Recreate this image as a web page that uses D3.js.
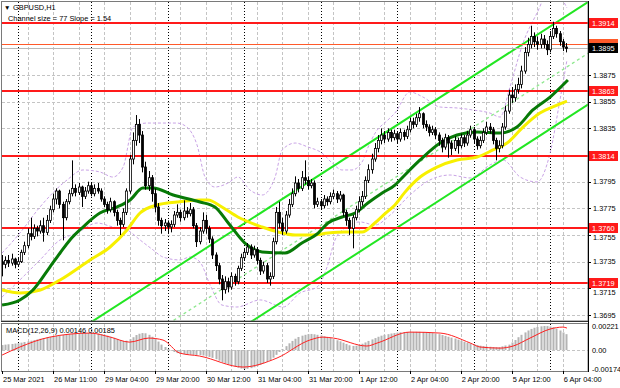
<!DOCTYPE html>
<html><head><meta charset="utf-8">
<script src="https://cdn.jsdelivr.net/npm/d3@7"></script>
<style>body{margin:0;background:#fff}svg{display:block}text{font-family:"Liberation Sans",Arial,sans-serif}</style>
</head><body>
<svg id="c" width="620" height="388"></svg>
<script>
// ---------------- DATA ----------------
const open = [
1.3735,1.3733,1.3736,1.3734,1.3737,1.3733,1.3735,1.3742,1.3747,1.3756,
1.3754,1.3760,1.3758,1.3762,1.3757,1.3766,1.3774,1.3782,1.3788,1.3778,
1.3768,1.3780,1.3786,1.3790,1.3787,1.3791,1.3784,1.3788,1.3792,1.3786,
1.3790,1.3788,1.3782,1.3778,1.3774,1.3780,1.3772,1.3766,1.3763,1.3772,
1.3788,1.3812,1.3826,1.3838,1.3830,1.3806,1.3792,1.3798,1.3786,1.3776,
1.3766,1.3762,1.3764,1.3761,1.3763,1.3770,1.3772,1.3768,1.3773,1.3771,
1.3774,1.3762,1.3750,1.3758,1.3766,1.3760,1.3752,1.3740,1.3732,1.3722,
1.3714,1.3720,1.3716,1.3724,1.3720,1.3730,1.3738,1.3742,1.3746,1.3740,
1.3744,1.3736,1.3728,1.3732,1.3722,1.3724,1.3750,1.3772,1.3764,1.3758,
1.3770,1.3778,1.3786,1.3794,1.3790,1.3798,1.3796,1.3792,1.3794,1.3778,
1.3780,1.3777,1.3782,1.3780,1.3784,1.3786,1.3782,1.3785,1.3772,1.3766,
1.3760,1.3768,1.3774,1.3780,1.3784,1.3796,1.3804,1.3812,1.3820,1.3826,
1.3830,1.3827,1.3832,1.3828,1.3831,1.3827,1.3832,1.3829,1.3834,1.3840,
1.3838,1.3843,1.3846,1.3838,1.3836,1.3832,1.3834,1.3830,1.3826,1.3821,
1.3828,1.3824,1.3820,1.3826,1.3822,1.3828,1.3824,1.3830,1.3834,1.3827,
1.3822,1.3826,1.3832,1.3836,1.3834,1.3826,1.3820,1.3822,1.3836,1.3848,
1.3860,1.3858,1.3864,1.3868,1.3878,1.3892,1.3898,1.3904,1.3900,1.3898,
1.3902,1.3898,1.3894,1.3904,1.3910,1.3906,1.3900,1.3896];
const high = [
1.3740,1.3739,1.3740,1.3741,1.3738,1.3738,1.3744,1.3750,1.3760,1.3768,
1.3763,1.3762,1.3766,1.3768,1.3770,1.3777,1.3786,1.3790,1.3789,1.3780,
1.3782,1.3789,1.3811,1.3793,1.3794,1.3792,1.3791,1.3795,1.3794,1.3793,
1.3794,1.3790,1.3784,1.3780,1.3783,1.3781,1.3774,1.3768,1.3775,1.3790,
1.3815,1.3832,1.3845,1.3842,1.3833,1.3810,1.3803,1.3800,1.3790,1.3779,
1.3768,1.3767,1.3766,1.3766,1.3773,1.3778,1.3774,1.3781,1.3776,1.3779,
1.3776,1.3764,1.3761,1.3772,1.3770,1.3762,1.3754,1.3742,1.3734,1.3725,
1.3724,1.3723,1.3727,1.3726,1.3732,1.3741,1.3745,1.3749,1.3748,1.3747,
1.3746,1.3738,1.3735,1.3734,1.3727,1.3753,1.3776,1.3780,1.3768,1.3773,
1.3782,1.3790,1.3799,1.3797,1.3803,1.3811,1.3799,1.3797,1.3796,1.3783,
1.3782,1.3785,1.3784,1.3787,1.3789,1.3788,1.3788,1.3786,1.3774,1.3768,
1.3770,1.3777,1.3784,1.3788,1.3799,1.3808,1.3816,1.3824,1.3830,1.3835,
1.3833,1.3835,1.3834,1.3834,1.3833,1.3835,1.3834,1.3837,1.3843,1.3843,
1.3846,1.3851,1.3847,1.3841,1.3838,1.3837,1.3836,1.3832,1.3828,1.3831,
1.3830,1.3826,1.3829,1.3828,1.3831,1.3830,1.3833,1.3837,1.3836,1.3829,
1.3829,1.3835,1.3840,1.3839,1.3836,1.3828,1.3826,1.3839,1.3852,1.3864,
1.3866,1.3868,1.3873,1.3882,1.3896,1.3903,1.3912,1.3907,1.3904,1.3906,
1.3905,1.3901,1.3908,1.3915,1.3912,1.3908,1.3902,1.3899];
const low = [
1.3724,1.3730,1.3731,1.3732,1.3730,1.3731,1.3734,1.3740,1.3745,1.3751,
1.3752,1.3754,1.3756,1.3750,1.3755,1.3764,1.3772,1.3778,1.3775,1.3751,
1.3766,1.3778,1.3784,1.3784,1.3785,1.3776,1.3782,1.3786,1.3784,1.3784,
1.3786,1.3780,1.3776,1.3771,1.3772,1.3769,1.3762,1.3755,1.3761,1.3770,
1.3786,1.3808,1.3822,1.3824,1.3802,1.3789,1.3788,1.3780,1.3772,1.3762,
1.3756,1.3758,1.3756,1.3757,1.3761,1.3768,1.3765,1.3766,1.3768,1.3769,
1.3760,1.3746,1.3748,1.3756,1.3756,1.3749,1.3737,1.3728,1.3718,1.3706,
1.3711,1.3712,1.3714,1.3717,1.3718,1.3728,1.3736,1.3740,1.3737,1.3738,
1.3733,1.3725,1.3726,1.3719,1.3717,1.3722,1.3748,1.3760,1.3755,1.3756,
1.3768,1.3776,1.3784,1.3787,1.3788,1.3793,1.3789,1.3790,1.3775,1.3776,
1.3774,1.3775,1.3777,1.3778,1.3782,1.3779,1.3780,1.3769,1.3762,1.3755,
1.3745,1.3766,1.3772,1.3777,1.3782,1.3794,1.3801,1.3810,1.3817,1.3823,
1.3824,1.3825,1.3825,1.3826,1.3824,1.3825,1.3826,1.3827,1.3832,1.3835,
1.3836,1.3840,1.3835,1.3833,1.3829,1.3830,1.3827,1.3822,1.3817,1.3819,
1.3813,1.3815,1.3818,1.3816,1.3820,1.3821,1.3822,1.3828,1.3824,1.3819,
1.3820,1.3824,1.3830,1.3831,1.3823,1.3811,1.3817,1.3820,1.3834,1.3846,
1.3854,1.3855,1.3861,1.3865,1.3876,1.3889,1.3895,1.3896,1.3894,1.3895,
1.3895,1.3890,1.3892,1.3902,1.3903,1.3897,1.3893,1.3892];
const close = [
1.3733,1.3736,1.3734,1.3737,1.3733,1.3735,1.3742,1.3747,1.3756,1.3754,
1.3760,1.3758,1.3762,1.3757,1.3766,1.3774,1.3782,1.3788,1.3778,1.3768,
1.3780,1.3786,1.3790,1.3787,1.3791,1.3784,1.3788,1.3792,1.3786,1.3790,
1.3788,1.3782,1.3778,1.3774,1.3780,1.3772,1.3766,1.3763,1.3772,1.3788,
1.3812,1.3826,1.3838,1.3830,1.3806,1.3792,1.3798,1.3786,1.3776,1.3766,
1.3762,1.3764,1.3761,1.3763,1.3770,1.3772,1.3768,1.3773,1.3771,1.3774,
1.3762,1.3750,1.3758,1.3766,1.3760,1.3752,1.3740,1.3732,1.3722,1.3714,
1.3720,1.3716,1.3724,1.3720,1.3730,1.3738,1.3742,1.3746,1.3740,1.3744,
1.3736,1.3728,1.3732,1.3722,1.3724,1.3750,1.3772,1.3764,1.3758,1.3770,
1.3778,1.3786,1.3794,1.3790,1.3798,1.3796,1.3792,1.3794,1.3778,1.3780,
1.3777,1.3782,1.3780,1.3784,1.3786,1.3782,1.3785,1.3772,1.3766,1.3760,
1.3768,1.3774,1.3780,1.3784,1.3796,1.3804,1.3812,1.3820,1.3826,1.3830,
1.3827,1.3832,1.3828,1.3831,1.3827,1.3832,1.3829,1.3834,1.3840,1.3838,
1.3843,1.3846,1.3838,1.3836,1.3832,1.3834,1.3830,1.3826,1.3821,1.3828,
1.3824,1.3820,1.3826,1.3822,1.3828,1.3824,1.3830,1.3834,1.3827,1.3822,
1.3826,1.3832,1.3836,1.3834,1.3826,1.3820,1.3822,1.3836,1.3848,1.3860,
1.3858,1.3864,1.3868,1.3878,1.3892,1.3898,1.3904,1.3900,1.3898,1.3902,
1.3898,1.3894,1.3904,1.3910,1.3906,1.3900,1.3896,1.3895];

// MACD main per bar
const macdMain = [
0.00046,0.00050,0.00053,0.00056,0.00060,0.00063,0.00068,0.00074,0.00080,0.00086,
0.00092,0.00098,0.00104,0.00110,0.00116,0.00120,0.00125,0.00130,0.00134,0.00138,
0.00142,0.00146,0.00149,0.00152,0.00154,0.00155,0.00156,0.00156,0.00155,0.00153,
0.00150,0.00146,0.00140,0.00132,0.00122,0.00112,0.00100,0.00090,0.00084,0.00086,
0.00100,0.00118,0.00138,0.00150,0.00156,0.00154,0.00140,0.00122,0.00104,0.00078,
0.00050,0.00028,0.00010,-0.00006,-0.00018,-0.00028,-0.00034,-0.00038,-0.00040,-0.00042,
-0.00044,-0.00045,-0.00046,-0.00050,-0.00056,-0.00063,-0.00072,-0.00084,-0.00098,-0.00112,
-0.00124,-0.00132,-0.00142,-0.00152,-0.00162,-0.00170,-0.00174,-0.00172,-0.00166,-0.00158,
-0.00148,-0.00136,-0.00122,-0.00108,-0.00092,-0.00070,-0.00044,-0.00018,0.00010,0.00036,
0.00062,0.00084,0.00104,0.00120,0.00132,0.00140,0.00146,0.00148,0.00145,0.00140,
0.00134,0.00126,0.00118,0.00110,0.00100,0.00090,0.00080,0.00068,0.00056,0.00044,
0.00038,0.00040,0.00048,0.00058,0.00070,0.00084,0.00098,0.00110,0.00122,0.00132,
0.00140,0.00146,0.00152,0.00156,0.00160,0.00163,0.00165,0.00166,0.00166,0.00167,
0.00168,0.00168,0.00166,0.00163,0.00160,0.00156,0.00152,0.00146,0.00138,0.00130,
0.00122,0.00114,0.00106,0.00096,0.00086,0.00076,0.00068,0.00062,0.00054,0.00046,
0.00040,0.00036,0.00032,0.00030,0.00028,0.00026,0.00026,0.00034,0.00042,0.00050,
0.00070,0.00092,0.00118,0.00140,0.00162,0.00180,0.00194,0.00205,0.00212,0.00218,
0.00221,0.00220,0.00216,0.00210,0.00198,0.00180,0.00162,0.00146];
// MACD signal, read at sample bars
const sigIdx = [0,5.6,15,27.6,34,40,46,50.5,55.8,62,75.6,86.3,96.6,100.7,104,114.5,117.7,128,137.5,147,150,156.3,160.4,165.7,172,176,177.3];
const sigVal = [-0.00046,0.00028,0.00119,0.00156,0.00119,0.00073,0.00110,0.00092,-0.00028,-0.00055,-0.00156,-0.00073,0.00092,0.00119,0.00110,0.00037,0.00064,0.00165,0.00156,0.00064,0.00028,0.00018,0.00037,0.00110,0.00193,0.00211,0.00202];

// Moving averages (read at sample bars)
const maGreenIdx = [0,5.6,9.7,15,18.2,21.3,25.4,30.7,36,40.2,44.2,47.4,53.7,62.1,66.8,71,76.2,81.6,88.8,94.1,99.2,102.3,106.7,110.8,114.8,119.3,123.3,124.9,131.2,137.5,142.8,149.1,156.3,161.6,166.6,172,177.6];
const maGreen = [1.37025,1.37063,1.37138,1.3731,1.37415,1.37513,1.3761,1.37715,1.3776,1.37813,1.37903,1.37903,1.3785,1.37798,1.3776,1.3764,1.3749,1.37423,1.37415,1.3749,1.37565,1.3764,1.37685,1.37715,1.3779,1.37865,1.37925,1.37963,1.38113,1.3824,1.383,1.38323,1.38315,1.3836,1.38488,1.38585,1.38713];
const maYellowIdx = [0,5.6,12,18.2,27.6,33.9,39.2,43.3,48.6,54.9,62.1,64.6,69,74,81.6,86.6,92,97.3,102.3,107.6,113,117,120.2,123.3,126.4,131.2,136.5,142.8,149.1,154.1,158.5,163.5,168.8,174.2,177.3];
const maYellow = [1.37138,1.37115,1.37138,1.37213,1.37363,1.3746,1.37588,1.37715,1.37775,1.37798,1.37813,1.37813,1.3776,1.37685,1.3761,1.37573,1.3755,1.3755,1.37565,1.37573,1.37573,1.3764,1.3771,1.37775,1.3787,1.37985,1.3806,1.38113,1.38135,1.38188,1.3824,1.3836,1.38465,1.38525,1.38555];
// Envelope bands
const bandUpIdx = [0,5.6,11.9,20.4,25.4,30.7,34.8,38,41.1,45.5,54.9,58,61.2,63.7,66.8,70.9,74,77.8,81.6,85.7,87.9,92,96,100.4,103.6,106.7,109.8,113,114.9,117.1,121.1,123.3,128,132.1,137.5,142.8,147.8,153.1,156.3,159.4,163.5,167.9,171,174.2,177.3];
const bandUp = [1.37415,1.37565,1.3776,1.37963,1.38038,1.38023,1.37985,1.3806,1.3836,1.3839,1.3839,1.3836,1.38225,1.37985,1.3791,1.3794,1.37985,1.37888,1.3785,1.37985,1.38188,1.3824,1.3821,1.38165,1.3809,1.38038,1.38038,1.38098,1.3821,1.38315,1.38413,1.38465,1.38623,1.38585,1.3851,1.38503,1.38488,1.38465,1.38435,1.3866,1.3899,1.39215,1.3935,1.3935,1.39253];
const bandLoIdx = [0,5.6,11.9,18.2,23.5,29.8,34.8,39.2,43.3,47.4,50.5,55.8,59,62.1,65.3,69,73.7,81,88.2,93.5,98.9,102,104.5,107.6,112.3,117.1,121.8,128,134.3,140.6,146.9,153.1,157.2,162.6,167.9,172,175.1,177.3];
const bandLo = [1.37085,1.37213,1.37363,1.37513,1.37565,1.3764,1.3761,1.37588,1.37513,1.37438,1.37385,1.37363,1.37385,1.37348,1.37175,1.37025,1.3701,1.37063,1.3701,1.37115,1.3716,1.3731,1.37513,1.37603,1.37648,1.37625,1.377,1.3785,1.37963,1.38,1.37978,1.38075,1.38113,1.37985,1.37948,1.38165,1.38563,1.38863];

// Channel (upper line anchor, slope per bar, width)
const chanAnchorIdx = 128, chanAnchorPrice = 1.38437, chanSlope = 0.000154, chanSize = 0.0077;

// Levels
const redLevels = [1.3914, 1.3863, 1.3814, 1.3760, 1.3719];
const orangeLevel = 1.3898, bidPrice = 1.3895;
const priceTicks = [1.3695,1.3715,1.3735,1.3755,1.3775,1.3795,1.3815,1.3835,1.3855,1.3875,1.3895,1.3915];
const priceTickLabels = ["1.3695","1.3715","1.3735","1.3755","1.3775","1.3795","","1.3835","1.3855","1.3875","",""];
const macdTicks = [0.00221, 0, -0.00174];
const macdTickLabels = ["0.00221","0.00","-0.00174"];
const timeIdx = [0,16,32,48,64,80,96,112,128,144,160,176];
const timeLabels = ["25 Mar 2021","26 Mar 11:00","29 Mar 04:00","29 Mar 20:00","30 Mar 12:00","31 Mar 04:00","31 Mar 20:00","1 Apr 12:00","2 Apr 04:00","2 Apr 20:00","5 Apr 12:00","6 Apr 04:00"];
const gridIdx = [8,16,24,32,40,48,56,64,72,80,88,96,104,112,120,128,136,144,152,160,168,176];
const dayIdx = [5,28,52,76,100,124,148,172];

// ---------------- DRAW ----------------
const svg = d3.select("#c");
const L = 2, R = 588, T = 2, MB = 321, MT = 324, MBo = 371;
const x = d3.scaleLinear().domain([0, 183.9]).range([2.07, 588]);
const y = d3.scaleLinear().domain([1.36905, 1.39298]).range([321, 2]);
const ym = d3.scaleLinear().domain([-0.00174, 0.00221]).range([369, 326]);

svg.append("rect").attr("width",620).attr("height",388).attr("fill","#fff");
const defs = svg.append("defs");
defs.append("clipPath").attr("id","cm").append("rect").attr("x",L).attr("y",T).attr("width",R-L).attr("height",MB-T);
defs.append("clipPath").attr("id","cd").append("rect").attr("x",L).attr("y",MT).attr("width",R-L).attr("height",MBo-MT);

const gridCol = "#c4c4c4";
svg.append("g").selectAll("line").data(priceTicks).join("line")
  .attr("x1",L).attr("x2",R).attr("y1",d=>Math.round(y(d))+0.5).attr("y2",d=>Math.round(y(d))+0.5)
  .attr("stroke",gridCol).attr("stroke-dasharray","3,2");
svg.append("line").attr("x1",L).attr("x2",R).attr("y1",Math.round(ym(0))+0.5).attr("y2",Math.round(ym(0))+0.5)
  .attr("stroke",gridCol).attr("stroke-dasharray","3,2");
[[T,MB],[MT,MBo]].forEach(([a,b])=>{
  svg.append("g").selectAll("line").data(gridIdx).join("line")
    .attr("x1",d=>Math.round(x(d))+0.5).attr("x2",d=>Math.round(x(d))+0.5).attr("y1",a).attr("y2",b)
    .attr("stroke",gridCol).attr("stroke-dasharray","3,2");
  svg.append("g").selectAll("line").data(dayIdx).join("line")
    .attr("x1",d=>Math.round(x(d))+0.5).attr("x2",d=>Math.round(x(d))+0.5).attr("y1",a).attr("y2",b)
    .attr("stroke","#000").attr("stroke-dasharray","1,2");
});

const gm = svg.append("g").attr("clip-path","url(#cm)");
const lineF = (idx, vals) => d3.line().curve(d3.curveMonotoneX).x((d,i)=>x(idx[i])).y((d)=>y(d))(vals);
gm.append("path").attr("d",lineF(bandUpIdx,bandUp)).attr("fill","none").attr("stroke","#c9a3e6").attr("stroke-width",1).attr("stroke-dasharray","3,2");
gm.append("path").attr("d",lineF(bandLoIdx,bandLo)).attr("fill","none").attr("stroke","#c9a3e6").attr("stroke-width",1).attr("stroke-dasharray","3,2");

const cx0 = 0, cx1 = 184;
const chan = (off) => [[cx0, chanAnchorPrice + (cx0-chanAnchorIdx)*chanSlope - off],[cx1, chanAnchorPrice + (cx1-chanAnchorIdx)*chanSlope - off]];
[[0,"#22e622",2,null],[chanSize,"#22e622",2,null],[chanSize/2,"#8ee88e",1.3,"3,3"]].forEach(([off,col,w,da])=>{
  const p = chan(off);
  const ln = gm.append("line").attr("x1",x(p[0][0])).attr("y1",y(p[0][1])).attr("x2",x(p[1][0])).attr("y2",y(p[1][1]))
    .attr("stroke",col).attr("stroke-width",w);
  if (da) ln.attr("stroke-dasharray",da);
});

gm.append("line").attr("x1",L).attr("x2",R).attr("y1",Math.round(y(orangeLevel))+0.5).attr("y2",Math.round(y(orangeLevel))+0.5).attr("stroke","#ff5a2a").attr("stroke-width",1);
gm.append("line").attr("x1",L).attr("x2",R).attr("y1",Math.round(y(bidPrice))+0.5).attr("y2",Math.round(y(bidPrice))+0.5).attr("stroke","#b8b8b8").attr("stroke-width",1);
gm.append("g").selectAll("line").data(redLevels).join("line")
  .attr("x1",L).attr("x2",R).attr("y1",d=>Math.round(y(d))).attr("y2",d=>Math.round(y(d)))
  .attr("stroke","#ff1a1a").attr("stroke-width",2);

gm.append("path").attr("d",lineF(maYellowIdx,maYellow)).attr("fill","none").attr("stroke","#f7f000").attr("stroke-width",3);
gm.append("path").attr("d",lineF(maGreenIdx,maGreen)).attr("fill","none").attr("stroke","#077a07").attr("stroke-width",3);

const bars = d3.range(close.length);
const cg = gm.append("g");
cg.selectAll("line").data(bars).join("line")
  .attr("x1",i=>Math.round(x(i))+0.5).attr("x2",i=>Math.round(x(i))+0.5)
  .attr("y1",i=>y(high[i])).attr("y2",i=>y(low[i])).attr("stroke","#000").attr("stroke-width",1);
cg.selectAll("rect").data(bars).join("rect")
  .attr("x",i=>Math.round(x(i))-0.5).attr("width",2)
  .attr("y",i=>y(Math.max(open[i],close[i])))
  .attr("height",i=>Math.max(0.8,Math.abs(y(open[i])-y(close[i]))))
  .attr("fill",i=>close[i]>=open[i]?"#fff":"#000").attr("stroke","#000").attr("stroke-width",0.8);

const gd = svg.append("g").attr("clip-path","url(#cd)");
gd.selectAll("rect").data(bars).join("rect")
  .attr("x",i=>Math.round(x(i))-0.5).attr("width",2)
  .attr("y",i=>Math.min(ym(macdMain[i]),ym(0)))
  .attr("height",i=>Math.abs(ym(macdMain[i])-ym(0)))
  .attr("fill","#b4b4b4");
gd.append("path").attr("d",d3.line().curve(d3.curveMonotoneX).x((d,i)=>x(sigIdx[i])).y(d=>ym(d))(sigVal))
  .attr("fill","none").attr("stroke","#ff2020").attr("stroke-width",1);

svg.append("rect").attr("x",1.5).attr("y",1.5).attr("width",R-1.5).attr("height",MB-1.5).attr("fill","none").attr("stroke","#7a7a7a");
svg.append("line").attr("x1",1).attr("x2",R).attr("y1",MB+0.5).attr("y2",MB+0.5).attr("stroke","#333");
svg.append("line").attr("x1",1).attr("x2",R).attr("y1",MT-0.5).attr("y2",MT-0.5).attr("stroke","#555");
svg.append("rect").attr("x",1.5).attr("y",MT-0.5).attr("width",R-1.5).attr("height",MBo-MT+1).attr("fill","none").attr("stroke","#7a7a7a");
svg.append("line").attr("x1",R+0.5).attr("x2",R+0.5).attr("y1",1).attr("y2",MBo+1).attr("stroke","#000");

// right axis labels
const fs = 7.4, boxH = 10;
const boxLevels = redLevels.concat([bidPrice]);
function tickBaseline(v) {
  let b = y(v) + 2.6;
  boxLevels.forEach(lv => {
    const top = Math.round(y(lv)) - boxH/2, bot = Math.round(y(lv)) + boxH/2;
    if (b - 6.6 < bot && b + 1.6 > top) b = bot + 6.8;
  });
  return b;
}
svg.append("g").selectAll("text").data(priceTicks).join("text")
  .attr("x",593).attr("y",d=>tickBaseline(d)).attr("font-size",fs).attr("fill","#000")
  .text((d,i)=>priceTickLabels[i]);
svg.append("g").selectAll("line").data(priceTicks).join("line")
  .attr("x1",R).attr("x2",R+3).attr("y1",d=>Math.round(y(d))+0.5).attr("y2",d=>Math.round(y(d))+0.5).attr("stroke","#000");
function box(v, bg, fg, showText) {
  const yy = Math.round(y(v));
  svg.append("rect").attr("x",589).attr("y",yy-boxH/2).attr("width",29).attr("height",boxH).attr("fill",bg);
  if (showText) svg.append("text").attr("x",592).attr("y",yy+2.6).attr("font-size",fs).attr("fill",fg).text(v.toFixed(4));
}
box(orangeLevel,"#ff5a2a","#fff",false);
box(bidPrice,"#000","#fff",true);
redLevels.forEach(v=>box(v,"#ff1a1a","#fff",true));

svg.append("g").selectAll("text").data(macdTicks).join("text")
  .attr("x",592).attr("y",d=>ym(d)+3).attr("font-size",fs).attr("fill","#000").text((d,i)=>macdTickLabels[i]);

svg.append("g").selectAll("text").data(timeIdx).join("text")
  .attr("x",i=>x(i)+1).attr("y",382).attr("font-size",fs).attr("fill","#000").text((d,k)=>timeLabels[k]);
svg.append("g").selectAll("line").data(timeIdx).join("line")
  .attr("x1",i=>Math.round(x(i))+0.5).attr("x2",i=>Math.round(x(i))+0.5).attr("y1",MBo).attr("y2",MBo+3).attr("stroke","#000");

svg.append("text").attr("x",4).attr("y",10).attr("font-size",6.5).attr("font-family","DejaVu Sans").text("▼");
svg.append("text").attr("x",13).attr("y",10).attr("font-size",fs).text("GBPUSD,H1");
svg.append("text").attr("x",8).attr("y",21).attr("font-size",fs).text("Channel size = 77 Slope = 1.54");
svg.append("text").attr("x",6).attr("y",333).attr("font-size",fs).text("MACD(12,26,9) 0.00146 0.00185");
</script>
</body></html>
